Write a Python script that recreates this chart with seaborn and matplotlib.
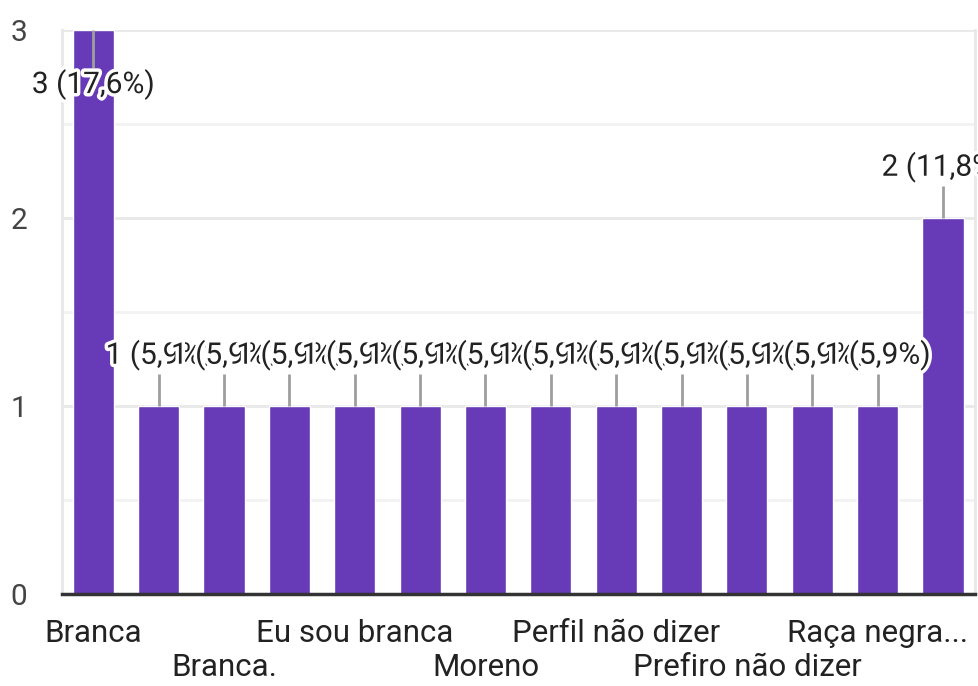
import matplotlib
matplotlib.use("Agg")
import matplotlib.pyplot as plt
import matplotlib.patheffects as pe
import seaborn as sns
import pandas as pd

categories = ["Branca", "Branca ", "Branca.", "Eu me considero branca", "Eu sou branca",
              "Indígena", "Moreno", "Parda", "Perfil não dizer", "Preta",
              "Prefiro não dizer", "Preto", "Raça negra...", "branca"]
values = [3, 1, 1, 1, 1, 1, 1, 1, 1, 1, 1, 1, 1, 2]
y_ticks = [0, 1, 2, 3]

df = pd.DataFrame({"cat": categories, "val": values})

sns.set_theme(style="white")
plt.rcParams['font.family'] = ['Roboto', 'DejaVu Sans']

fig = plt.figure(figsize=(9.79, 6.86), dpi=100)
ax = fig.add_axes([62/979, 92/686, (975-62)/979, (594-30)/686])

sns.barplot(data=df, x="cat", y="val", order=categories, color="#673ab7",
            saturation=1, width=0.63, ax=ax, errorbar=None, zorder=2)

ax.set_xlim(-0.48, 13.49)
ax.set_ylim(0, 3)
ax.set_xlabel("")
ax.set_ylabel("")

# gridlines
ax.set_yticks(y_ticks)
ax.set_yticks([0.5, 1.5, 2.5], minor=True)
ax.yaxis.grid(True, which="major", color="#e8e8e8", linewidth=2)
ax.yaxis.grid(True, which="minor", color="#f2f2f2", linewidth=2)
ax.set_axisbelow(True)
ax.set_yticklabels([str(t) for t in y_ticks], fontsize=21.5, color="#444444")
ax.tick_params(axis="y", which="both", length=0, pad=25)

# x tick labels: every other category, staggered in two rows
labels = []
for i, c in enumerate(categories):
    if i % 2 == 1:
        labels.append("")
    elif i % 4 == 2:
        labels.append("\n" + c)
    else:
        labels.append(c)
ax.set_xticks(range(len(categories)))
ax.set_xticklabels(labels, fontsize=22.5, color="#222222", linespacing=1.22)
ax.tick_params(axis="x", length=0, pad=18)

ax.spines["top"].set_visible(False)
ax.spines["left"].set_color("#e8e8e8")
ax.spines["left"].set_linewidth(2)
ax.spines["right"].set_color("#e8e8e8")
ax.spines["right"].set_linewidth(2)
ax.spines["bottom"].set_color("#333333")
ax.spines["bottom"].set_linewidth(2.5)
ax.spines["bottom"].set_zorder(5)

total = sum(values)
for i, v in enumerate(values):
    pct = f"{v / total * 100:.1f}".replace(".", ",")
    txt = f"{v} ({pct}%)"
    if v >= 3:
        ax.vlines(i, v - 0.2, v, color="#9e9e9e", linewidth=2, zorder=3)
        ty = v - 0.29
    else:
        ax.vlines(i, v, v + 0.17, color="#9e9e9e", linewidth=2, zorder=3)
        ty = v + 0.27
    ax.text(i, ty, txt, ha="center", va="center", fontsize=21.5, color="#222222",
            zorder=10 + i, clip_on=False,
            path_effects=[pe.withStroke(linewidth=5, foreground="white")])

fig.savefig("out.png", dpi=100)
